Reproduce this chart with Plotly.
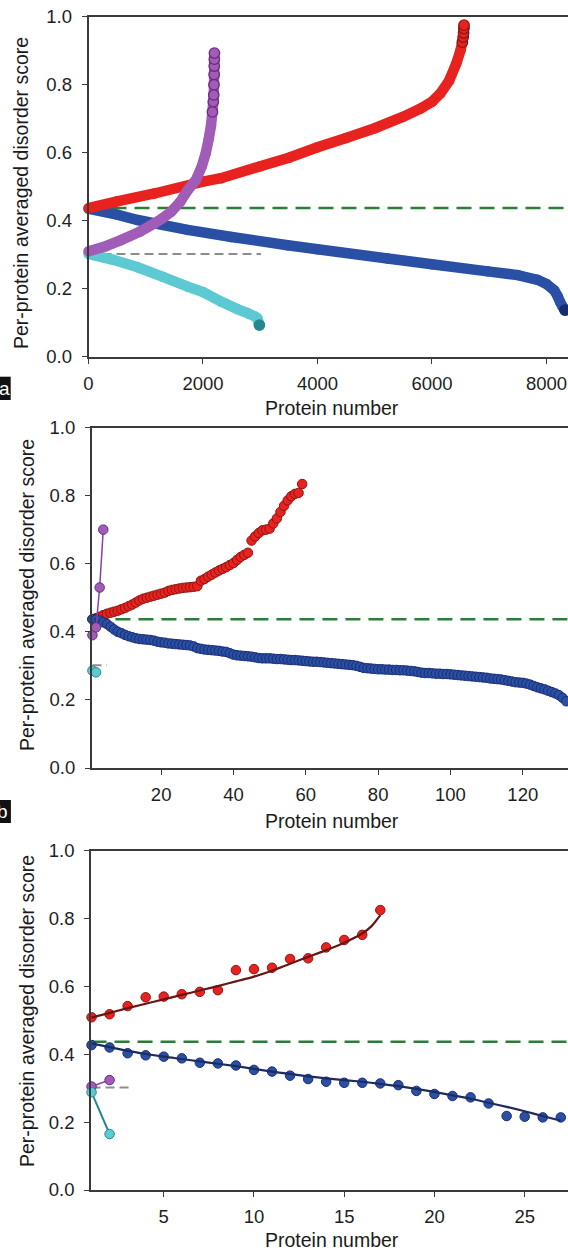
import plotly.graph_objects as go

# ---------------- data ----------------
# Panel a (dense curves)
a_red_x = [0, 500, 1151, 2000, 2315, 3000, 3500, 4000, 4500, 5000, 5500, 5800, 6000, 6150, 6300, 6424, 6500, 6530, 6545, 6552, 6557, 6560]
a_red_y = [0.437, 0.457, 0.480, 0.515, 0.525, 0.560, 0.585, 0.616, 0.643, 0.672, 0.706, 0.730, 0.750, 0.775, 0.812, 0.862, 0.902, 0.925, 0.940, 0.952, 0.965, 0.975]

a_blue_x = [0, 500, 860, 1733, 2500, 3479, 4000, 5226, 6000, 6973, 7500, 7846, 8000, 8137, 8195, 8240, 8280, 8323]
a_blue_y = [0.435, 0.418, 0.402, 0.373, 0.352, 0.328, 0.316, 0.289, 0.272, 0.251, 0.240, 0.226, 0.214, 0.195, 0.178, 0.160, 0.148, 0.137]

a_purple_x = [0, 300, 568, 900, 1151, 1300, 1442, 1600, 1733, 1878, 1980, 2050, 2100, 2140, 2165, 2180, 2188, 2192, 2195, 2197, 2198, 2200]
a_purple_y = [0.310, 0.325, 0.343, 0.368, 0.392, 0.408, 0.426, 0.455, 0.490, 0.520, 0.560, 0.600, 0.640, 0.680, 0.720, 0.750, 0.770, 0.800, 0.830, 0.855, 0.875, 0.893]

a_cyan_x = [0, 430, 860, 1300, 1733, 2000, 2315, 2600, 2781, 2900, 2950, 2985]
a_cyan_y = [0.302, 0.285, 0.263, 0.235, 0.206, 0.190, 0.162, 0.140, 0.128, 0.119, 0.113, 0.093]

a_green_x = [0, 8376]
a_green_y = [0.437, 0.437]
a_grey_x = [0, 3013]
a_grey_y = [0.302, 0.302]

# Panel b
b_red_y = [0.437, 0.440, 0.444, 0.449, 0.453, 0.456, 0.459, 0.462, 0.466, 0.470,
           0.475, 0.480, 0.486, 0.492, 0.497, 0.500, 0.503, 0.506, 0.509, 0.512,
           0.515, 0.520, 0.523, 0.525, 0.527, 0.529, 0.530, 0.531, 0.532, 0.534,
           0.550, 0.555, 0.562, 0.568, 0.574, 0.580, 0.585, 0.590, 0.596, 0.602,
           0.611, 0.620, 0.626, 0.632, 0.668, 0.680, 0.690, 0.698, 0.700, 0.703,
           0.718, 0.733, 0.752, 0.770, 0.786, 0.798, 0.805, 0.808, 0.834]
b_red_x = list(range(1, len(b_red_y) + 1))

b_blue_y = [0.437, 0.436, 0.433, 0.428, 0.423, 0.415, 0.407, 0.400, 0.396, 0.391,
            0.387, 0.384, 0.381, 0.379, 0.378, 0.377, 0.376, 0.374, 0.371, 0.369,
            0.368, 0.366, 0.365, 0.364, 0.363, 0.362, 0.361, 0.360, 0.357, 0.352,
            0.350, 0.348, 0.347, 0.346, 0.345, 0.344, 0.342, 0.341, 0.337, 0.333,
            0.331, 0.330, 0.329, 0.328, 0.327, 0.325, 0.323, 0.322, 0.322, 0.322,
            0.321, 0.320, 0.320, 0.319, 0.318, 0.317, 0.317, 0.316, 0.315, 0.314,
            0.313, 0.312, 0.312, 0.311, 0.310, 0.309, 0.308, 0.307, 0.306, 0.305,
            0.304, 0.303, 0.302, 0.300, 0.297, 0.294, 0.293, 0.292, 0.291, 0.290,
            0.290, 0.289, 0.289, 0.288, 0.288, 0.287, 0.287, 0.286, 0.285, 0.284,
            0.282, 0.280, 0.279, 0.279, 0.278, 0.277, 0.277, 0.276, 0.276, 0.275,
            0.274, 0.273, 0.272, 0.271, 0.270, 0.269, 0.268, 0.267, 0.266, 0.265,
            0.263, 0.262, 0.261, 0.260, 0.258, 0.256, 0.254, 0.252, 0.251, 0.250,
            0.248, 0.245, 0.241, 0.237, 0.234, 0.231, 0.227, 0.223, 0.219, 0.214,
            0.206, 0.196, 0.186, 0.175]
b_blue_x = list(range(1, len(b_blue_y) + 1))

b_purple_x = [1, 2, 3, 4]
b_purple_y = [0.390, 0.413, 0.530, 0.700]
b_cyan_x = [1, 2]
b_cyan_y = [0.286, 0.281]
b_green_x = [1, 132.5]
b_green_y = [0.437, 0.437]
b_grey_x = [1, 5]
b_grey_y = [0.302, 0.302]

# Panel c
c_red_x = list(range(1, 18))
c_red_y = [0.509, 0.518, 0.542, 0.568, 0.570, 0.577, 0.584, 0.589, 0.648, 0.651,
           0.655, 0.681, 0.683, 0.715, 0.737, 0.752, 0.825]
c_red_fit_x = [1, 2, 3, 4, 5, 6, 7, 8, 9, 10, 11, 12, 13, 14, 15, 16, 16.5, 17]
c_red_fit_y = [0.508, 0.522, 0.536, 0.549, 0.562, 0.575, 0.588, 0.601, 0.615, 0.629,
               0.646, 0.667, 0.687, 0.707, 0.729, 0.756, 0.777, 0.810]

c_blue_x = list(range(1, 28))
c_blue_y = [0.427, 0.420, 0.403, 0.397, 0.393, 0.388, 0.375, 0.373, 0.367, 0.354,
            0.349, 0.337, 0.327, 0.319, 0.316, 0.316, 0.314, 0.309, 0.292, 0.283,
            0.277, 0.273, 0.255, 0.218, 0.216, 0.214, 0.214]
c_blue_fit_x = list(range(1, 28))
c_blue_fit_y = [0.432, 0.421, 0.410, 0.401, 0.393, 0.386, 0.379, 0.372, 0.365, 0.357,
                0.349, 0.342, 0.335, 0.329, 0.324, 0.319, 0.313, 0.306, 0.298, 0.289,
                0.279, 0.269, 0.257, 0.245, 0.232, 0.218, 0.204]

c_purple_x = [1, 2]
c_purple_y = [0.305, 0.324]
c_cyan_x = [1, 2]
c_cyan_y = [0.288, 0.165]
c_green_x = [1, 27.4]
c_green_y = [0.437, 0.437]
c_grey_x = [1, 3.05]
c_grey_y = [0.302, 0.302]

y_ticks = [0.0, 0.2, 0.4, 0.6, 0.8, 1.0]
a_xticks = [0, 2000, 4000, 6000, 8000]
b_xticks = [20, 40, 60, 80, 100, 120]
c_xticks = [5, 10, 15, 20, 25]

# ---------------- styling ----------------
W, H = 568, 1250
FONT = "Liberation Sans, Arial, Helvetica, sans-serif"
RED, RED_D = "#e8221f", "#8c1614"
BLUE, BLUE_D = "#2a50a6", "#1a2c70"
PURP, PURP_D = "#a15cb7", "#6a2a84"
CYAN, CYAN_D = "#5dcad3", "#23898f"
GREEN = "#2b7d38"
GREY = "#8d8d8d"
AX = "#3a3a3a"


def fx(p):
    return p / W


def fy(p):
    return 1 - p / H


fig = go.Figure()


def dash_line(x, y, color, width, dash, xa, ya):
    fig.add_trace(go.Scatter(x=x, y=y, mode="lines", xaxis=xa, yaxis=ya,
                             line=dict(color=color, width=width, dash=dash),
                             hoverinfo="skip", showlegend=False, cliponaxis=False))


def dense_curve(x, y, fill, dark, ntail, xa, ya):
    n = len(x)
    outl = [fill] * (n - ntail) + [dark] * ntail
    outw = [0] * (n - ntail) + [1.3] * ntail
    fills = [fill] * (n - ntail) + [dark if ntail == 1 else fill] * ntail
    fig.add_trace(go.Scatter(x=x, y=y, mode="lines", xaxis=xa, yaxis=ya,
                             line=dict(color=fill, width=10.5, simplify=False),
                             hoverinfo="skip", showlegend=False, cliponaxis=False))
    fig.add_trace(go.Scatter(x=x, y=y, mode="markers", xaxis=xa, yaxis=ya,
                             marker=dict(size=10.5, color=fills,
                                         line=dict(color=outl, width=outw)),
                             hoverinfo="skip", showlegend=False, cliponaxis=False))


def dots(x, y, fill, dark, xa, ya, mode="markers", lcolor=None, lwidth=1.5):
    fig.add_trace(go.Scatter(x=x, y=y, mode=mode, xaxis=xa, yaxis=ya,
                             marker=dict(size=9.5, color=fill, line=dict(color=dark, width=1)),
                             line=dict(color=lcolor or dark, width=lwidth),
                             hoverinfo="skip", showlegend=False, cliponaxis=False))


def fit(x, y, color, xa, ya):
    fig.add_trace(go.Scatter(x=x, y=y, mode="lines", xaxis=xa, yaxis=ya,
                             line=dict(color=color, width=2.2, shape="spline"),
                             hoverinfo="skip", showlegend=False, cliponaxis=False))


GDASH = "15px,8px"
YDASH = "9px,5px"

# Panel a
dash_line(a_green_x, a_green_y, GREEN, 2.5, GDASH, "x", "y")
dash_line(a_grey_x, a_grey_y, GREY, 2, YDASH, "x", "y")
dense_curve(a_cyan_x, a_cyan_y, CYAN, CYAN_D, 1, "x", "y")
dense_curve(a_blue_x, a_blue_y, BLUE, BLUE_D, 1, "x", "y")
dense_curve(a_red_x, a_red_y, RED, RED_D, 5, "x", "y")
dense_curve(a_purple_x, a_purple_y, PURP, PURP_D, 8, "x", "y")

# Panel b
dash_line(b_green_x, b_green_y, GREEN, 2.5, GDASH, "x2", "y2")
dash_line(b_grey_x, b_grey_y, GREY, 2, YDASH, "x2", "y2")
dots(b_red_x, b_red_y, RED, RED_D, "x2", "y2")
dots(b_blue_x, b_blue_y, BLUE, BLUE_D, "x2", "y2")
dots(b_purple_x, b_purple_y, PURP, PURP_D, "x2", "y2", mode="lines+markers", lcolor="#8a3fa6")
dots(b_cyan_x, b_cyan_y, CYAN, CYAN_D, "x2", "y2")

# Panel c
dash_line(c_green_x, c_green_y, GREEN, 2.5, GDASH, "x3", "y3")
dash_line(c_grey_x, c_grey_y, GREY, 2, YDASH, "x3", "y3")
dots(c_red_x, c_red_y, RED, RED_D, "x3", "y3")
fit(c_red_fit_x, c_red_fit_y, "#6a1414", "x3", "y3")
dots(c_blue_x, c_blue_y, BLUE, BLUE_D, "x3", "y3")
fit(c_blue_fit_x, c_blue_fit_y, "#1e2a62", "x3", "y3")
dots(c_purple_x, c_purple_y, PURP, PURP_D, "x3", "y3", mode="lines+markers", lcolor="#8a3fa6")
dots(c_cyan_x, c_cyan_y, CYAN, CYAN_D, "x3", "y3", mode="lines+markers", lcolor="#23898f", lwidth=2)

tickfont = dict(family=FONT, size=18.5, color="#1e1e1e")


def xax(domain_left, rng, ticks, anchor):
    return dict(domain=[fx(domain_left), 1], range=rng, tickvals=ticks,
                showline=True, linecolor=AX, linewidth=1.6, mirror=True,
                ticks="outside", ticklen=5, tickwidth=1.3, tickcolor=AX,
                showgrid=False, zeroline=False, tickfont=tickfont, anchor=anchor,
                ticklabelstandoff=4, fixedrange=True, automargin=False)


def yax(top, bottom, anchor):
    return dict(domain=[fy(bottom), fy(top)], range=[0, 1], tickvals=y_ticks,
                tickformat=".1f", showline=True, linecolor=AX, linewidth=1.6,
                ticks="outside", ticklen=5, tickwidth=1.3, tickcolor=AX,
                showgrid=False, zeroline=False, tickfont=tickfont, anchor=anchor,
                ticklabelstandoff=6, fixedrange=True, automargin=False)


title_font = dict(family=FONT, size=19.5, color="#1a1a1a")
annotations = []
for yc in [408, 821, 1240]:
    annotations.append(dict(text="Protein number", x=fx(332), y=fy(yc), xref="paper", yref="paper",
                            xanchor="center", yanchor="middle", showarrow=False, font=title_font))
for xc, yc in [(21, 193), (27, 595), (27, 1011)]:
    annotations.append(dict(text="Per-protein averaged disorder score", x=fx(xc), y=fy(yc),
                            xref="paper", yref="paper", xanchor="center", yanchor="middle",
                            textangle=-90, showarrow=False, font=title_font))

shapes = []
for (x1, ytop, ybot, letter, lx) in [(10.7, 376.7, 400, "a", 4.5), (10.9, 800, 823, "b", 2.0)]:
    shapes.append(dict(type="rect", xref="paper", yref="paper", x0=fx(-14), x1=fx(x1),
                       y0=fy(ybot), y1=fy(ytop), fillcolor="#111111", line=dict(width=0)))
    annotations.append(dict(text=letter, x=fx(lx), y=fy((ytop + ybot) / 2), xref="paper", yref="paper",
                            xanchor="center", yanchor="middle", showarrow=False,
                            font=dict(family=FONT, size=19, color="white")))

fig.update_layout(
    width=W, height=H, margin=dict(l=0, r=0, t=0, b=0, autoexpand=False),
    paper_bgcolor="white", plot_bgcolor="white", showlegend=False,
    font=dict(family=FONT),
    xaxis=xax(88.5, [0, 8376], a_xticks, "y"),
    yaxis=yax(16.7, 356.7, "x"),
    xaxis2=xax(91.7, [0.8, 132.5], b_xticks, "y2"),
    yaxis2=yax(427.5, 768, "x2"),
    xaxis3=xax(91, [0.97, 27.4], c_xticks, "y3"),
    yaxis3=yax(850.7, 1190, "x3"),
    annotations=annotations, shapes=shapes,
)

fig.write_html("out.html", config={"displayModeBar": False},
               post_script="document.body.style.margin='0';document.body.style.overflow='hidden';")
